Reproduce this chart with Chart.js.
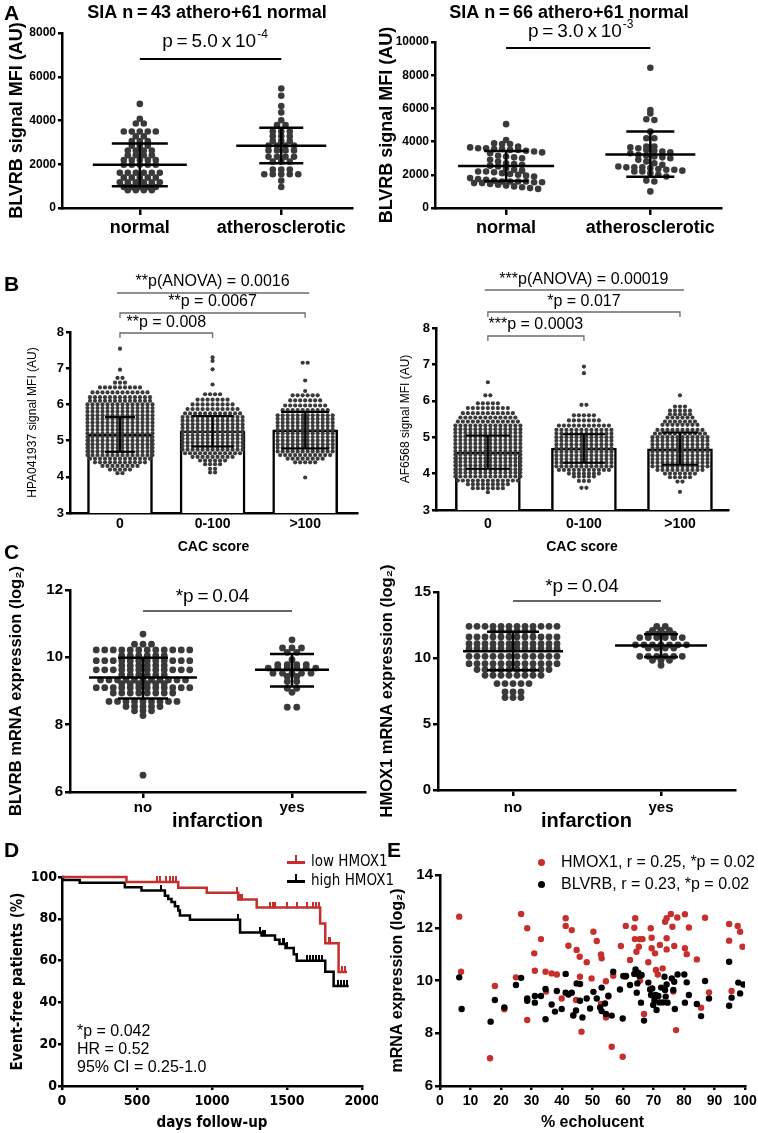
<!DOCTYPE html>
<html><head><meta charset="utf-8">
<script src="https://cdn.jsdelivr.net/npm/chart.js@4.4.1/dist/chart.umd.min.js"></script>
<style>
html,body{margin:0;padding:0;background:#fff;}
#wrap{position:relative;width:758px;height:1133px;overflow:hidden;background:#fff;}
#wrap canvas{position:absolute;}
.lab{position:absolute;white-space:nowrap;color:#000;font-family:'Liberation Sans',Arial,sans-serif;line-height:1.15;transform:translateY(-50%);}
.blk{position:absolute;}
</style></head><body><div id="wrap"></div>
<script>
// ================= DATA =================
// Panel A
const catsA = ['normal', 'atherosclerotic'];
const aL_normal = [4760,4080,3860,3860,3500,3500,3500,3500,3500,3280,3280,3060,3060,3060,2850,2850,2850,2630,2630,2630,2630,2410,2410,2410,2410,2190,2190,2190,2190,2190,1975,1975,1975,1975,1975,1610,1610,1610,1610,1610,1610,1390,1390,1390,1390,1390,1180,1180,1180,1180,1180,1180,960,960,960,960,960,810,810,810,810];
const aL_athero = [5460,5130,4660,4370,4010,3790,3790,3500,3500,3500,3280,3280,3280,3060,3060,3060,2850,2850,2850,2850,2630,2630,2630,2630,2340,2340,2340,2340,2120,2120,2120,1760,1760,1760,1540,1540,1540,1540,1540,1250,960];
const aL_mean = [1975, 2846];
const aL_sdLo = [990, 2047];
const aL_sdHi = [2950, 3674];
const aL_yRange = [0, 8000, 2000];
const aR_normal = [5050,4100,3900,3850,3850,3700,3650,3600,3600,3550,3550,3500,3500,3450,3400,3350,3300,3150,3100,3050,3000,2900,2800,2700,2650,2600,2550,2500,2400,2300,2250,2200,2200,2150,2100,2050,2000,1950,1900,1800,1750,1700,1650,1600,1600,1600,1600,1550,1550,1500,1500,1450,1400,1350,1300,1250,1200,1150];
const aR_athero = [8450,5900,5700,5350,5300,4600,4200,4200,3700,3700,3650,3600,3500,3450,3400,3350,3300,3200,3150,3100,3050,3000,2900,2800,2700,2600,2500,2450,2450,2450,2400,2350,2300,2300,2250,2200,2200,2100,2000,1900,1650,1600,1000];
const aR_mean = [2530, 3220];
const aR_sdLo = [1620, 1880];
const aR_sdHi = [3430, 4610];
const aR_yRange = [0, 10000, 2000];

// Panel B  (rows: [value, number of points in that row])
const catsB = ['0', '0-100', '>100'];
const bL_rows0 = [[4.1,2],[4.2,5],[4.3,8],[4.4,11],[4.5,13],[4.6,14],[4.7,14],[4.8,14],[4.9,14],[5.0,14],[5.1,14],[5.2,14],[5.3,14],[5.4,14],[5.5,14],[5.6,14],[5.7,14],[5.8,14],[5.9,14],[6.0,14],[6.1,13],[6.2,13],[6.33,12],[6.47,9],[6.6,3],[6.73,2],[6.96,1],[7.54,1]];
const bL_rows1 = [[4.12,2],[4.22,2],[4.35,4],[4.45,6],[4.55,9],[4.65,12],[4.75,13],[4.85,13],[4.95,13],[5.05,13],[5.15,13],[5.25,13],[5.35,13],[5.45,13],[5.55,13],[5.65,13],[5.75,12],[5.87,11],[6.0,9],[6.13,7],[6.28,4],[6.55,1],[6.97,1],[7.2,1],[7.3,1]];
const bL_rows2 = [[3.98,1],[4.4,5],[4.5,8],[4.6,11],[4.7,12],[4.8,12],[4.9,12],[5.0,12],[5.1,12],[5.2,12],[5.3,12],[5.4,12],[5.5,12],[5.6,12],[5.7,12],[5.84,10],[5.97,9],[6.11,7],[6.25,6],[6.37,1],[6.66,1],[7.15,2]];
const bL_mean = [5.17, 5.27, 5.30];
const bL_sdLo = [4.69, 4.84, 4.78];
const bL_sdHi = [5.65, 5.68, 5.79];
const bR_rows0 = [[3.49,1],[3.6,7],[3.71,9],[3.81,13],[3.92,14],[4.02,14],[4.12,14],[4.22,14],[4.32,14],[4.42,14],[4.52,14],[4.62,14],[4.72,14],[4.82,14],[4.92,14],[5.02,14],[5.12,14],[5.22,14],[5.32,14],[5.43,13],[5.54,12],[5.66,11],[5.8,9],[5.93,5],[6.15,2],[6.51,1]];
const bR_rows1 = [[3.61,2],[3.8,3],[3.92,5],[4.0,7],[4.1,11],[4.2,12],[4.3,12],[4.4,12],[4.5,12],[4.6,12],[4.7,12],[4.8,12],[4.9,12],[5.0,12],[5.1,12],[5.2,12],[5.32,11],[5.46,7],[5.6,5],[5.89,2],[6.76,1],[6.94,1]];
const bR_rows2 = [[3.5,1],[3.78,2],[3.9,5],[4.0,7],[4.1,10],[4.2,12],[4.3,12],[4.4,12],[4.5,12],[4.6,12],[4.7,12],[4.8,12],[4.9,12],[5.0,12],[5.1,11],[5.2,10],[5.34,8],[5.43,7],[5.54,6],[5.63,5],[5.73,5],[5.84,3],[6.15,1]];
const bR_mean = [4.59, 4.70, 4.68];
const bR_sdLo = [4.13, 4.30, 4.24];
const bR_sdHi = [5.05, 5.08, 5.13];
const b_yRange = [3, 8, 1];

// Panel C
const catsC = ['no', 'yes'];
const cL_rowsNo = [[6.5,1],[8.27,1],[8.41,3],[8.54,5],[8.69,9],[8.94,8],[9.1,12],[9.22,6],[9.33,11],[9.48,6],[9.63,12],[9.76,6],[9.9,12],[10.05,6],[10.22,12],[10.39,3],[10.69,1]];
const cL_rowsYes = [[8.52,2],[8.96,1],[9.08,2],[9.28,2],[9.43,2],[9.53,5],[9.68,6],[9.78,4],[9.93,1],[10.15,2],[10.28,3],[10.52,1]];
const cL_mean = [9.40, 9.63];
const cL_sdLo = [8.78, 9.13];
const cL_sdHi = [9.99, 10.10];
const cL_yRange = [6, 12, 2];
const cR_rowsNo = [[7.0,3],[7.43,3],[8.06,5],[8.69,8],[9.12,10],[9.57,12],[10.13,12],[10.7,12],[11.08,12],[11.59,12],[12.04,6],[12.4,12]];
const cR_rowsYes = [[9.45,1],[9.83,3],[10.13,6],[10.75,4],[11.0,7],[11.55,6],[11.8,4],[12.1,3],[12.4,2]];
const cR_mean = [10.51, 10.94];
const cR_sdLo = [9.08, 10.08];
const cR_sdHi = [11.98, 11.80];
const cR_yRange = [0, 15, 5];

// Panel D (Kaplan-Meier)
const kmLowT = [0, 430, 775, 965, 1175, 1298, 1721, 1755, 1844, 1900];
const kmLowS = [100, 97.6, 94.9, 92.5, 89.2, 85.4, 77.7, 68.3, 54.6, 54.6];
const kmHighT = [0, 7, 118, 419, 530, 686, 708, 730, 753, 775, 786, 853, 1187, 1330, 1420, 1450, 1490, 1545, 1565, 1755, 1811, 1911];
const kmHighS = [100, 98.6, 97.2, 95.1, 93.5, 91.0, 89.5, 88.0, 86.0, 84.0, 81.6, 79.6, 73.4, 72.0, 70.0, 68.0, 66.0, 63.0, 59.9, 54.7, 47.8, 47.8];
const censorLow = [630, 650, 690, 720, 740, 760, 1165, 1185, 1200, 1385, 1405, 1420, 1500, 1565, 1630, 1675, 1695, 1710, 1777, 1788, 1866, 1889];
const censorHigh = [660, 686, 1175, 1320, 1340, 1355, 1470, 1480, 1500, 1630, 1650, 1670, 1690, 1710, 1730, 1840, 1860, 1880, 1900];
const d_xRange = [0, 2000, 500];
const d_yRange = [0, 100, 20];

// Panel E
const hmoxX = [6.3,6.9,16.4,18.0,21.1,24.9,26.6,28.6,28.6,30.9,31.1,33.1,34.6,34.8,36.6,38.3,39.9,41.2,41.2,42.1,43.2,43.7,44.8,44.6,45.8,45.9,46.4,48.1,49.7,50.3,51.4,52.8,53.0,52.8,54.4,54.4,55.2,56.3,56.8,59.3,59.9,60.7,60.9,62.3,63.7,64.0,63.9,64.4,65.2,65.5,66.4,65.6,66.9,68.3,69.1,69.4,69.4,70.5,70.8,71.4,72.1,73.0,73.8,74.3,74.3,74.3,75.7,76.2,76.8,76.5,77.4,77.8,80.3,80.3,80.9,81.6,84.2,85.6,86.9,88.2,94.8,94.8,95.6,97.6,98.4,99.2];
const hmoxY = [12.42,10.33,7.05,9.79,8.91,10.12,12.52,11.98,8.5,11.03,10.37,11.57,10.33,9.58,10.27,10.23,9.32,12.36,12.07,11.32,11.91,8.69,11.16,9.26,10.9,10.14,8.06,10.69,10.08,11.85,11.5,10.99,10.84,9.11,9.97,8.6,9.39,7.49,10.18,11.31,7.11,10.14,12.07,10.78,12.0,12.36,11.57,11.09,11.28,11.57,11.57,10.0,8.73,10.69,11.98,11.62,11.22,11.03,10.4,10.23,11.35,10.46,12.23,12.36,11.6,11.18,12.52,12.04,11.31,9.58,8.12,12.39,12.51,11.22,11.0,12.01,10.8,8.97,12.38,9.55,12.14,11.51,9.6,12.07,11.85,11.28];
const blvrbX = [6.3,7.1,16.6,18.0,21.1,24.9,26.6,28.6,28.6,31.1,31.1,33.1,34.6,34.6,36.6,37.7,38.3,39.9,41.2,41.2,42.1,43.2,43.7,44.6,44.8,45.9,45.9,46.7,48.1,49.2,50.3,51.4,52.5,53.0,53.0,54.1,54.4,55.2,56.3,56.8,59.0,59.9,60.1,61.0,62.3,63.7,64.1,64.5,64.7,65.0,65.4,65.9,66.1,66.9,68.3,68.9,69.2,69.6,69.9,70.3,70.7,71.0,71.6,71.9,72.5,73.0,73.6,73.8,74.0,74.3,74.6,76.0,76.5,76.8,77.0,77.9,80.1,80.3,80.9,81.6,84.2,85.6,86.9,88.2,94.8,94.8,95.6,97.8,98.4,99.5];
const blvrbY = [10.12,8.92,8.44,9.26,8.98,9.83,10.1,9.32,9.23,9.41,9.16,9.41,9.68,8.53,9.09,8.82,9.6,8.92,10.25,9.54,9.47,9.54,8.67,8.86,9.89,9.87,9.23,8.6,9.32,8.94,9.57,9.32,8.98,8.84,9.73,9.13,8.73,9.42,8.67,10.33,9.66,8.56,10.17,10.17,9.83,10.25,10.42,9.54,9.89,10.3,10.17,9.16,10.21,8.48,9.92,9.66,9.45,9.7,9.07,9.26,9.45,8.88,9.41,9.17,9.73,9.17,10.14,9.64,9.39,9.85,9.16,10.08,9.64,9.95,8.92,10.23,10.23,9.16,9.93,9.45,9.11,8.65,9.98,9.32,10.71,9.04,9.35,9.92,9.51,9.85];
const e_xRange = [0, 100, 10];
const e_yRange = [6, 14, 2];

// ================= RENDERING =================
const FONT = "'Liberation Sans', Arial, Helvetica, sans-serif";
const NARROW = "'Liberation Sans Narrow', 'Arial Narrow', 'DejaVu Sans Condensed', 'Liberation Sans', sans-serif";
const LW = 2.5, DOT = '#3a3a3a', RED = '#c62f2c';
const TS = '\u2009';
Chart.defaults.font.family = FONT;
Chart.defaults.color = '#000';
const wrap = document.getElementById('wrap');
const fnt = (size, weight, family, lh) => ({size, weight: weight || 'normal', family: family || FONT, lineHeight: lh || 1.2});

function mkCanvas(L, T, W, H) {
  const c = document.createElement('canvas');
  c.width = W; c.height = H;
  c.style.left = L + 'px'; c.style.top = T + 'px'; c.style.width = W + 'px'; c.style.height = H + 'px';
  wrap.appendChild(c);
  return c;
}

function buildChart(p) {
  const cv = mkCanvas(p.L, p.T, p.W, p.H);
  const a = p.area, X = p.x, Y = p.y;
  const xH = p.H - a.b, yW = a.l;
  const xTicks = {autoSkip: false, maxRotation: 0, minRotation: 0, color: '#000', font: X.font, padding: X.pad,
    callback: X.labels ? ((v, i) => X.labels[i]) : (v => String(v))};
  if (X.step) xTicks.stepSize = X.step;
  const xs = {type: 'linear', position: 'bottom', min: X.min, max: X.max, offset: false,
    afterFit(s) { s.height = xH; s.paddingLeft = 0; s.paddingRight = 0; },
    ticks: xTicks,
    grid: {drawOnChartArea: false, offset: false, drawTicks: X.tl > 0, tickLength: X.tl || 0, color: '#000', lineWidth: LW},
    border: {display: true, color: '#000', width: LW}};
  if (X.ticksAt) xs.afterBuildTicks = s => { s.ticks = X.ticksAt.map(v => ({value: v})); };
  if (X.title) {
    const lh = X.titleFont.size * X.titleFont.lineHeight;
    xs.title = {display: true, text: X.title, color: '#000', font: X.titleFont, padding: {top: 0, bottom: Math.max(0, p.H - X.titleY - lh / 2)}};
  }
  const yTicks = {color: '#000', font: Y.font, padding: Y.pad, stepSize: Y.step, callback: v => String(v)};
  const ysc = {type: 'linear', position: 'left', min: Y.min, max: Y.max, offset: false, beginAtZero: false,
    afterFit(s) { s.width = yW; s.paddingTop = 0; s.paddingBottom = 0; },
    ticks: yTicks,
    grid: {drawOnChartArea: false, drawTicks: true, tickLength: Y.tl, color: '#000', lineWidth: LW},
    border: {display: true, color: '#000', width: LW}};
  if (Y.title) {
    const lh = Y.titleFont.size * Y.titleFont.lineHeight;
    ysc.title = {display: true, text: Y.title, color: '#000', font: Y.titleFont, padding: {top: Math.max(0, Y.titleX - lh / 2), bottom: 0}};
  }
  const cfg = {
    type: p.type || 'scatter',
    data: {datasets: p.datasets},
    options: {
      responsive: false, animation: false, devicePixelRatio: 1, events: [],
      layout: {padding: {left: 0, top: a.t, right: p.W - a.r, bottom: 0}},
      plugins: {legend: {display: false}, tooltip: {enabled: false}},
      scales: {x: xs, y: ysc}
    },
    plugins: p.draw ? [{id: 'annot', afterDatasetsDraw: c => p.draw(c)}] : []
  };
  return new Chart(cv, cfg);
}

const expand = rows => rows.flatMap(([v, n]) => Array(n).fill(v));

// beeswarm-style horizontal arrangement (layout only, values unchanged)
function swarm(chart, center, values, spacing, binPx) {
  const xs = chart.scales.x, ys = chart.scales.y;
  const cx = xs.getPixelForValue(center);
  const groups = new Map();
  values.forEach((v, i) => {
    const key = binPx ? Math.round(ys.getPixelForValue(v) / binPx) : v;
    if (!groups.has(key)) groups.set(key, []);
    groups.get(key).push(i);
  });
  const pts = values.map(v => ({x: center, y: v}));
  groups.forEach(idx => {
    const n = idx.length;
    idx.forEach((k, j) => { pts[k].x = xs.getValueForPixel(cx + (j - (n - 1) / 2) * spacing); });
  });
  return pts;
}
function applySwarm(chart, specs) {
  specs.forEach(s => { chart.data.datasets[s.ds].data = swarm(chart, s.center, s.values, s.spacing, s.bin); });
  chart.update('none');
}
function dotDs(values, center, r, color) {
  return {type: 'scatter', data: values.map(v => ({x: center, y: v})), pointRadius: r, pointHoverRadius: r,
    pointBorderWidth: 0, backgroundColor: color || DOT, borderColor: color || DOT, order: 1};
}

// drawing helpers
function txt(ctx, s, x, y, font, align) {
  ctx.save(); ctx.fillStyle = '#000'; ctx.font = font; ctx.textAlign = align || 'center'; ctx.textBaseline = 'middle';
  ctx.fillText(s, x, y); ctx.restore();
}
function supText(ctx, base, sup, cx, cy, size, supSize) {
  ctx.save(); ctx.fillStyle = '#000'; ctx.textBaseline = 'middle'; ctx.textAlign = 'left';
  ctx.font = size + 'px ' + FONT; const w1 = ctx.measureText(base).width;
  ctx.font = supSize + 'px ' + FONT; const w2 = ctx.measureText(sup).width;
  const x0 = cx - (w1 + w2) / 2;
  ctx.font = size + 'px ' + FONT; ctx.fillText(base, x0, cy);
  ctx.font = supSize + 'px ' + FONT; ctx.fillText(sup, x0 + w1 + 1, cy - size * 0.38);
  ctx.restore();
}
function seg(ctx, pts, color, lw) {
  ctx.save(); ctx.strokeStyle = color; ctx.lineWidth = lw; ctx.beginPath();
  pts.forEach((p, i) => i ? ctx.lineTo(p[0], p[1]) : ctx.moveTo(p[0], p[1]));
  ctx.stroke(); ctx.restore();
}
function meanSd(c, cats, mean, lo, hi, meanHalf, capHalf, lw) {
  const xs = c.scales.x, ys = c.scales.y, ctx = c.ctx;
  cats.forEach((cv, i) => {
    const x = xs.getPixelForValue(cv);
    const ym = ys.getPixelForValue(mean[i]), yl = ys.getPixelForValue(lo[i]), yh = ys.getPixelForValue(hi[i]);
    if (meanHalf) seg(ctx, [[x - meanHalf[i], ym], [x + meanHalf[i], ym]], '#000', lw);
    seg(ctx, [[x, yl], [x, yh]], '#000', lw);
    seg(ctx, [[x - capHalf[i], yl], [x + capHalf[i], yl]], '#000', lw);
    seg(ctx, [[x - capHalf[i], yh], [x + capHalf[i], yh]], '#000', lw);
  });
}

// ---------- Panel A left ----------
const chAL = buildChart({L: 0, T: 0, W: 378, H: 262, area: {l: 62, r: 352, t: 33, b: 208},
  x: {min: 0.45, max: 2.5, ticksAt: [1, 2], labels: catsA, font: fnt(18, 'bold'), tl: 7, pad: 2},
  y: {min: aL_yRange[0], max: aL_yRange[1], step: aL_yRange[2], font: fnt(12, 'bold'), tl: 4, pad: 2,
      title: 'BLVRB signal MFI (AU)', titleFont: fnt(18, 'bold'), titleX: 17},
  datasets: [dotDs(aL_normal, 1, 3.3), dotDs(aL_athero, 2, 3.3)],
  draw: c => {
    const xs = c.scales.x, x1 = xs.getPixelForValue(1), x2 = xs.getPixelForValue(2);
    meanSd(c, [1, 2], aL_mean, aL_sdLo, aL_sdHi, [47, 45], [28, 22], 2.5);
    seg(c.ctx, [[x1, 59], [x2, 59]], '#000', 2);
    supText(c.ctx, 'p' + TS + '=' + TS + '5.0' + TS + 'x' + TS + '10', '-4', (x1 + x2) / 2 + 4, 42, 19, 12);
    txt(c.ctx, 'SIA n' + TS + '=' + TS + '43 athero+61 normal', 207, 13, 'bold 18px ' + FONT);
  }});
applySwarm(chAL, [{ds: 0, center: 1, values: aL_normal, spacing: 8, bin: 0}, {ds: 1, center: 2, values: aL_athero, spacing: 8.5, bin: 0}]);

// ---------- Panel A right ----------
const chAR = buildChart({L: 378, T: 0, W: 380, H: 262, area: {l: 57, r: 343, t: 42, b: 208},
  x: {min: 0.507, max: 2.49, ticksAt: [1, 2], labels: catsA, font: fnt(18, 'bold'), tl: 7, pad: 2},
  y: {min: aR_yRange[0], max: aR_yRange[1], step: aR_yRange[2], font: fnt(12, 'bold'), tl: 4, pad: 2,
      title: 'BLVRB signal MFI (AU)', titleFont: fnt(18, 'bold', FONT, 1), titleX: 9},
  datasets: [dotDs(aR_normal, 1, 3.3), dotDs(aR_athero, 2, 3.3)],
  draw: c => {
    const xs = c.scales.x, x1 = xs.getPixelForValue(1), x2 = xs.getPixelForValue(2);
    meanSd(c, [1, 2], aR_mean, aR_sdLo, aR_sdHi, [48, 45], [22, 24], 2.5);
    seg(c.ctx, [[x1, 48], [x2, 48]], '#000', 2);
    supText(c.ctx, 'p' + TS + '=' + TS + '3.0' + TS + 'x' + TS + '10', '-3', (x1 + x2) / 2 + 2, 32, 19, 12);
    txt(c.ctx, 'SIA n' + TS + '=' + TS + '66 athero+61 normal', 191, 13, 'bold 18px ' + FONT);
  }});
applySwarm(chAR, [{ds: 0, center: 1, values: aR_normal, spacing: 8, bin: 6}, {ds: 1, center: 2, values: aR_athero, spacing: 8, bin: 6}]);

// ---------- Panel B ----------
function barDs(means) {
  return {type: 'bar', data: means.map((m, i) => ({x: i, y: m})), backgroundColor: '#fff', borderColor: '#000',
    borderWidth: 2.5, barThickness: 65, borderSkipped: 'start', order: 2};
}
function bracketText(c, T, items, anovaY, anovaText, anovaX) {
  const ctx = c.ctx, xs = c.scales.x;
  const px = v => xs.getPixelForValue(v);
  seg(ctx, [[px(anovaX[0]) - 3, anovaY - T], [px(anovaX[1]) + 4, anovaY - T]], '#6b6b6b', 1.3);
  txt(ctx, anovaText[0], px(1), anovaText[1] - T, '16px ' + FONT);
  items.forEach(it => {
    const y = it.y - T;
    seg(ctx, [[px(it.a), y + 5], [px(it.a), y], [px(it.b), y], [px(it.b), y + 5]], '#6b6b6b', 1.3);
    txt(ctx, it.text, it.tx != null ? it.tx : (px(it.a) + px(it.b)) / 2, it.ty - T, '16px ' + FONT);
  });
}
const bL_vals = [expand(bL_rows0), expand(bL_rows1), expand(bL_rows2)];
const chBL = buildChart({L: 0, T: 270, W: 378, H: 290, area: {l: 70, r: 357, t: 62, b: 243},
  x: {min: -0.54, max: 2.56, ticksAt: [0, 1, 2], labels: catsB, font: fnt(14, 'bold'), tl: 0, pad: 3,
      title: 'CAC score', titleFont: fnt(14, 'bold'), titleY: 277},
  y: {min: b_yRange[0], max: b_yRange[1], step: b_yRange[2], font: fnt(13, 'bold'), tl: 4, pad: 2,
      title: 'HPA041937 signal MFI (AU)', titleFont: fnt(12, 'normal'), titleX: 33},
  datasets: [dotDs(bL_vals[0], 0, 2.1), dotDs(bL_vals[1], 1, 2.1), dotDs(bL_vals[2], 2, 2.1), barDs(bL_mean)],
  draw: c => {
    meanSd(c, [0, 1, 2], bL_mean, bL_sdLo, bL_sdHi, null, [15, 21, 24], 2);
    bracketText(c, 270, [
      {a: 0, b: 2, y: 313, ty: 302, text: '**p = 0.0067', tx: c.scales.x.getPixelForValue(1)},
      {a: 0, b: 1, y: 333, ty: 323, text: '**p = 0.008'}
    ], 293, ['**p(ANOVA) = 0.0016', 282], [0, 2]);
  }});
applySwarm(chBL, [0, 1, 2].map(i => ({ds: i, center: i, values: bL_vals[i], spacing: 5, bin: 0})));

const bR_vals = [expand(bR_rows0), expand(bR_rows1), expand(bR_rows2)];
const chBR = buildChart({L: 378, T: 270, W: 380, H: 290, area: {l: 58, r: 350, t: 58, b: 240},
  x: {min: -0.54, max: 2.5, ticksAt: [0, 1, 2], labels: catsB, font: fnt(14, 'bold'), tl: 0, pad: 6,
      title: 'CAC score', titleFont: fnt(14, 'bold'), titleY: 277},
  y: {min: b_yRange[0], max: b_yRange[1], step: b_yRange[2], font: fnt(13, 'bold'), tl: 4, pad: 2,
      title: 'AF6568 signal MFI (AU)', titleFont: fnt(12, 'normal'), titleX: 28},
  datasets: [dotDs(bR_vals[0], 0, 2.1), dotDs(bR_vals[1], 1, 2.1), dotDs(bR_vals[2], 2, 2.1), barDs(bR_mean)],
  draw: c => {
    meanSd(c, [0, 1, 2], bR_mean, bR_sdLo, bR_sdHi, null, [22, 21, 18], 2);
    bracketText(c, 270, [
      {a: 0, b: 2, y: 312, ty: 302, text: '*p = 0.017', tx: c.scales.x.getPixelForValue(1)},
      {a: 0, b: 1, y: 336, ty: 325, text: '***p = 0.0003'}
    ], 290, ['***p(ANOVA) = 0.00019', 280], [0, 2]);
  }});
applySwarm(chBR, [0, 1, 2].map(i => ({ds: i, center: i, values: bR_vals[i], spacing: 5, bin: 0})));

// ---------- Panel C ----------
const cL_no = expand(cL_rowsNo), cL_yes = expand(cL_rowsYes);
const chCL = buildChart({L: 0, T: 540, W: 378, H: 300, area: {l: 70, r: 365, t: 50, b: 252},
  x: {min: 0.51, max: 2.49, ticksAt: [1, 2], labels: catsC, font: fnt(15, 'bold'), tl: 6, pad: 1,
      title: 'infarction', titleFont: fnt(20, 'bold'), titleY: 281},
  y: {min: cL_yRange[0], max: cL_yRange[1], step: cL_yRange[2], font: fnt(15, 'bold'), tl: 5, pad: 2,
      title: 'BLVRB mRNA expression (log\u2082)', titleFont: fnt(16.5, 'bold', FONT, 1), titleX: 16},
  datasets: [dotDs(cL_no, 1, 3.4), dotDs(cL_yes, 2, 3.4)],
  draw: c => {
    const xs = c.scales.x, x1 = xs.getPixelForValue(1), x2 = xs.getPixelForValue(2);
    meanSd(c, [1, 2], cL_mean, cL_sdLo, cL_sdHi, [54, 37], [25, 22], 2.5);
    seg(c.ctx, [[x1, 71], [x2, 71]], '#666', 2);
    txt(c.ctx, '*p' + TS + '=' + TS + '0.04', (x1 + x2) / 2 - 5, 57, '19px ' + FONT);
  }});
applySwarm(chCL, [{ds: 0, center: 1, values: cL_no, spacing: 8.5, bin: 0}, {ds: 1, center: 2, values: cL_yes, spacing: 9.5, bin: 0}]);

const cR_no = expand(cR_rowsNo), cR_yes = expand(cR_rowsYes);
const chCR = buildChart({L: 378, T: 540, W: 380, H: 300, area: {l: 60, r: 357, t: 52, b: 250},
  x: {min: 0.493, max: 2.5, ticksAt: [1, 2], labels: catsC, font: fnt(15, 'bold'), tl: 6, pad: 3,
      title: 'infarction', titleFont: fnt(20, 'bold'), titleY: 281},
  y: {min: cR_yRange[0], max: cR_yRange[1], step: cR_yRange[2], font: fnt(15, 'bold'), tl: 5, pad: 2,
      title: 'HMOX1 mRNA expression (log\u2082)', titleFont: fnt(16.5, 'bold', FONT, 1), titleX: 9},
  datasets: [dotDs(cR_no, 1, 3.4), dotDs(cR_yes, 2, 3.4)],
  draw: c => {
    const xs = c.scales.x, x1 = xs.getPixelForValue(1), x2 = xs.getPixelForValue(2);
    meanSd(c, [1, 2], cR_mean, cR_sdLo, cR_sdHi, [50, 46], [26, 17], 2.5);
    seg(c.ctx, [[x1, 61], [x2, 61]], '#666', 2);
    txt(c.ctx, '*p' + TS + '=' + TS + '0.04', (x1 + x2) / 2 - 5, 47, '19px ' + FONT);
  }});
applySwarm(chCR, [{ds: 0, center: 1, values: cR_no, spacing: 8, bin: 0}, {ds: 1, center: 2, values: cR_yes, spacing: 8.5, bin: 0}]);

// ---------- Panel D ----------
function kmAt(T, S, t) { let s = S[0]; for (let i = 0; i < T.length; i++) { if (T[i] <= t) s = S[i]; } return s; }
function tickImg(color) {
  const c = document.createElement('canvas'); c.width = 2; c.height = 12;
  const g = c.getContext('2d'); g.fillStyle = color; g.fillRect(0, 0, 2, 6.5); return c;
}
const chD = buildChart({type: 'line', L: 0, T: 840, W: 378, H: 293, area: {l: 62, r: 362, t: 37, b: 246},
  x: {min: d_xRange[0], max: d_xRange[1], step: d_xRange[2], font: fnt(14, 'bold', NARROW), tl: 4, pad: 3,
      title: 'days follow-up', titleFont: fnt(15, 'bold', NARROW), titleY: 283},
  y: {min: d_yRange[0], max: d_yRange[1], step: d_yRange[2], font: fnt(14, 'bold', NARROW), tl: 4, pad: 1,
      title: 'Event-free patients (%)', titleFont: fnt(15, 'bold', NARROW), titleX: 18},
  datasets: [
    {type: 'scatter', data: censorLow.map(t => ({x: t, y: kmAt(kmLowT, kmLowS, t)})), pointStyle: tickImg(RED), pointRadius: 3, clip: false, order: 0},
    {type: 'scatter', data: censorHigh.map(t => ({x: t, y: kmAt(kmHighT, kmHighS, t)})), pointStyle: tickImg('#000'), pointRadius: 3, clip: false, order: 0},
    {type: 'line', data: kmLowT.map((t, i) => ({x: t, y: kmLowS[i]})), stepped: true, borderColor: RED, borderWidth: 2.5, pointRadius: 0, fill: false, clip: false, order: 1},
    {type: 'line', data: kmHighT.map((t, i) => ({x: t, y: kmHighS[i]})), stepped: true, borderColor: '#000', borderWidth: 2.5, pointRadius: 0, fill: false, clip: false, order: 2}
  ]});

// ---------- Panel E ----------
const chE = buildChart({L: 378, T: 840, W: 380, H: 293, area: {l: 62, r: 367, t: 35, b: 246},
  x: {min: e_xRange[0], max: e_xRange[1], step: e_xRange[2], font: fnt(14, 'bold'), tl: 4, pad: 3,
      title: '% echolucent', titleFont: fnt(16, 'bold'), titleY: 283},
  y: {min: e_yRange[0], max: e_yRange[1], step: e_yRange[2], font: fnt(15, 'bold'), tl: 5, pad: 2,
      title: 'mRNA expression (log\u2082)', titleFont: fnt(16, 'bold'), titleX: 20},
  datasets: [
    {type: 'scatter', data: blvrbX.map((x, i) => ({x, y: blvrbY[i]})), pointRadius: 3.2, pointBorderWidth: 0, backgroundColor: '#000', borderColor: '#000'},
    {type: 'scatter', data: hmoxX.map((x, i) => ({x, y: hmoxY[i]})), pointRadius: 3.2, pointBorderWidth: 0, backgroundColor: RED, borderColor: RED}
  ]});

// ---------- HTML labels ----------
function lab(text, x, y, css) {
  const d = document.createElement('div'); d.className = 'lab'; d.textContent = text;
  d.style.left = x + 'px'; d.style.top = y + 'px'; d.style.cssText += css || '';
  wrap.appendChild(d); return d;
}
function blk(x, y, w, h, color, radius) {
  const d = document.createElement('div'); d.className = 'blk';
  d.style.cssText = `left:${x}px;top:${y}px;width:${w}px;height:${h}px;background:${color};` + (radius ? 'border-radius:50%;' : '');
  wrap.appendChild(d);
}
const letterCss = 'font-weight:bold;font-size:21px;';
lab('A', 4, 13, letterCss); lab('B', 4, 284, letterCss); lab('C', 4, 552, letterCss);
lab('D', 4, 850, letterCss); lab('E', 387, 850, letterCss);
// D legend
const narrowCss = "font-family:'Liberation Sans Narrow','Arial Narrow','DejaVu Sans Condensed','Liberation Sans',sans-serif;font-size:15px;";
blk(287, 861, 18, 2.5, RED); blk(295, 855, 2, 7, RED);
lab('low HMOX1', 311, 862, narrowCss);
blk(287, 880, 18, 2.5, '#000'); blk(295, 874, 2, 7, '#000');
lab('high HMOX1', 311, 881, narrowCss);
// D statistics
lab('*p = 0.042', 77, 1031, 'font-size:16px;');
lab('HR = 0.52', 77, 1049, 'font-size:16px;');
lab('95% CI = 0.25-1.0', 77, 1067, 'font-size:16px;');
// E legend
blk(537.5, 858.5, 7, 7, RED, true);
lab('HMOX1, r = 0.25, *p = 0.02', 561, 862, 'font-size:16px;');
blk(537.5, 880.5, 7, 7, '#000', true);
lab('BLVRB, r = 0.23, *p = 0.02', 561, 884, 'font-size:16px;');
</script></body></html>
